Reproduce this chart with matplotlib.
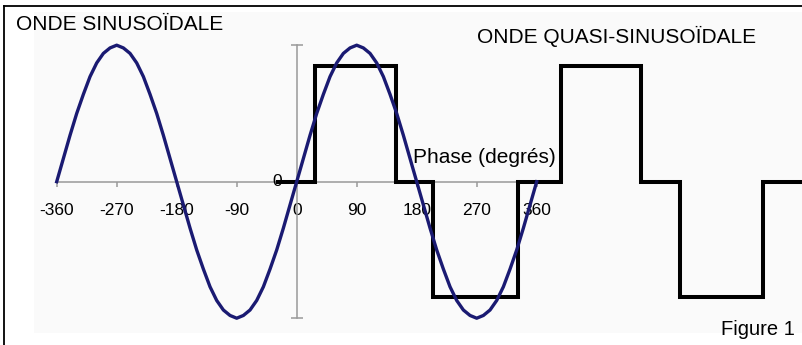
import numpy as np
import matplotlib
matplotlib.use("Agg")
import matplotlib.pyplot as plt
from matplotlib.lines import Line2D
from matplotlib.patches import Rectangle

plt.rcParams["font.family"] = ["Liberation Sans", "DejaVu Sans"]

# sine wave, read every 10 degrees from -360 to 360
sine_phase = np.arange(-360, 361, 10)
sine_value = [
    0, 0.17, 0.34, 0.5, 0.64, 0.77, 0.87, 0.94, 0.98,
    1, 0.98, 0.94, 0.87, 0.77, 0.64, 0.5, 0.34, 0.17,
    0, -0.17, -0.34, -0.5, -0.64, -0.77, -0.87, -0.94, -0.98,
    -1, -0.98, -0.94, -0.87, -0.77, -0.64, -0.5, -0.34, -0.17,
    0, 0.17, 0.34, 0.5, 0.64, 0.77, 0.87, 0.94, 0.98,
    1, 0.98, 0.94, 0.87, 0.77, 0.64, 0.5, 0.34, 0.17,
    0, -0.17, -0.34, -0.5, -0.64, -0.77, -0.87, -0.94, -0.98,
    -1, -0.98, -0.94, -0.87, -0.77, -0.64, -0.5, -0.34, -0.17,
    0,
]

# quasi-sine (modified square) wave: level held from each phase to the next
square_phase = [-28, 28, 149, 205, 332, 397, 516, 575, 700, 790]
square_level = [0, 0.845, 0, -0.845, 0, 0.845, 0, -0.845, 0, 0]

tick_phase = [-360, -270, -180, -90, 0, 90, 180, 270, 360]
tick_labels = ["-360", "-270", "-180", "-90", "0", "90", "180", "270", "360"]

W, H = 802, 345
fig = plt.figure(figsize=(W / 100, H / 100), dpi=100)
fig.patch.set_facecolor("white")


def fx(px):
    return px / W


def fy(py):
    return 1 - py / H


# light plot area and the outer frame (top and left edges only)
fig.add_artist(Rectangle((fx(34), fy(333)), fx(W - 34), 333 / H - 12 / H,
                         transform=fig.transFigure, facecolor="#fafafa",
                         edgecolor="none", zorder=0))
fig.add_artist(Line2D([fx(4), fx(4)], [0, fy(6)], color="black", lw=1.3))
fig.add_artist(Line2D([fx(4), 1], [fy(6), fy(6)], color="black", lw=1.3))

ax = fig.add_axes([0, 0, 1, 1])
ax.patch.set_visible(False)
px_per_deg = 240 / 360
x0, y0, amp = 296.7, 181.7, 136.5
ax.set_xlim(-x0 / px_per_deg, (W - x0) / px_per_deg)
ax.set_ylim((y0 - H) / amp, y0 / amp)

for side in ["top", "right"]:
    ax.spines[side].set_visible(False)
ax.spines["bottom"].set_position(("data", 0))
ax.spines["left"].set_position(("data", 0))
ax.spines["bottom"].set_bounds(-360, 360)
ax.spines["left"].set_bounds(-1, 1)
for side in ["bottom", "left"]:
    ax.spines[side].set_color("#999999")
    ax.spines[side].set_linewidth(1.1)

ax.set_xticks(tick_phase)
ax.set_xticklabels(tick_labels)
ax.tick_params(axis="x", direction="out", length=3.6, width=1.1,
               color="#999999", labelsize=12.5, pad=12)
ax.set_yticks([-1, 1])
ax.set_yticklabels([])
ax.tick_params(axis="y", direction="inout", length=8, width=1.1,
               color="#999999")

ax.text(-30, 0, "0", ha="center", va="center", fontsize=12.5)

ax.plot(square_phase, square_level, drawstyle="steps-post", color="black",
        lw=2.9, solid_joinstyle="miter", zorder=3)
ax.plot(sine_phase, sine_value, color="#1a1a72", lw=2.4, zorder=4,
        solid_joinstyle="round")

fig.text(fx(16.5), fy(30), "ONDE SINUSOÏDALE", fontsize=15, va="baseline")
fig.text(fx(477), fy(43), "ONDE QUASI-SINUSOÏDALE", fontsize=15,
         va="baseline")
fig.text(fx(413), fy(163), "Phase (degrés)", fontsize=15, va="baseline")
fig.text(fx(721), fy(335), "Figure 1", fontsize=14.5, va="baseline")

fig.savefig("out.png", dpi=100)
